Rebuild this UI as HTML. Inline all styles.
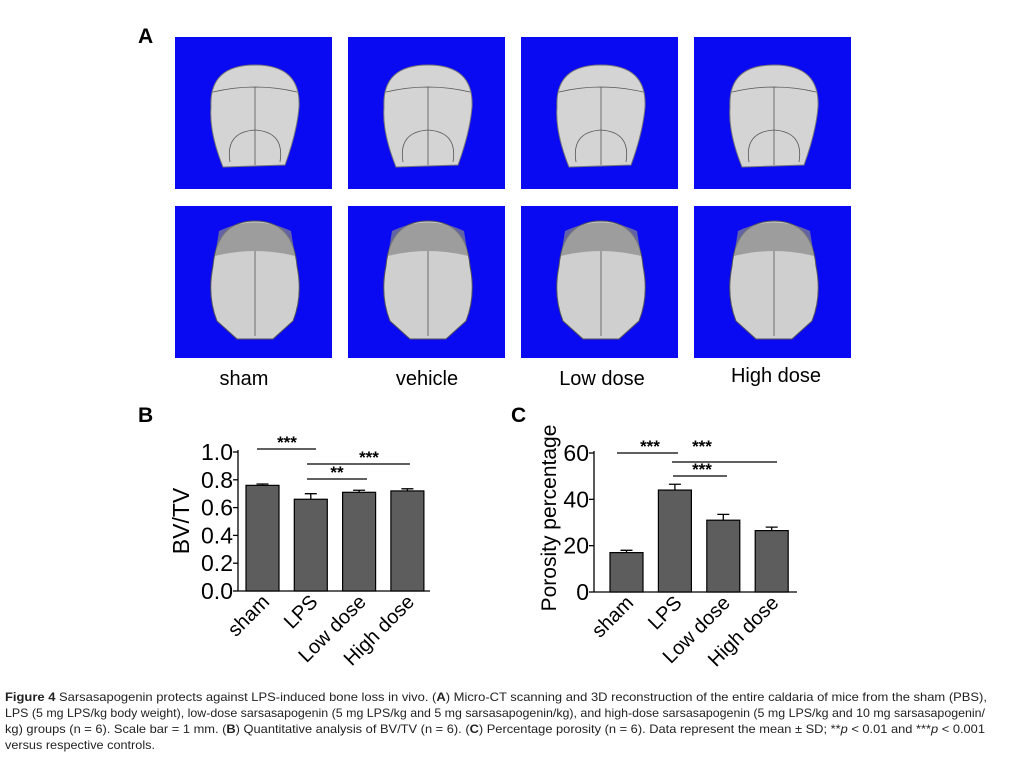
<!DOCTYPE html>
<html><head><meta charset="utf-8"><style>
body{margin:0;background:#fff;width:1010px;height:783px;overflow:hidden;font-family:"Liberation Sans",sans-serif}
svg{position:absolute;left:0;top:0}
</style></head><body>
<svg width="1010" height="783" id="fig">
<text x="138" y="43" font-size="21" font-weight="bold">A</text>
<g id="panels"></g>
<text x="244" y="385" font-size="20" text-anchor="middle">sham</text>
<text x="427" y="385" font-size="20" text-anchor="middle">vehicle</text>
<text x="602" y="385" font-size="20" text-anchor="middle">Low dose</text>
<text x="776" y="382" font-size="20" text-anchor="middle">High dose</text>
<text x="138" y="422" font-size="21" font-weight="bold">B</text>
<text x="511" y="422" font-size="21" font-weight="bold">C</text>
<g id="chartB"></g>
<g id="chartC"></g>
<g font-size="12" fill="#222">
<text x="5" y="701" textLength="982" lengthAdjust="spacingAndGlyphs"><tspan font-weight="bold">Figure 4</tspan> Sarsasapogenin protects against LPS-induced bone loss in vivo. (<tspan font-weight="bold">A</tspan>) Micro-CT scanning and 3D reconstruction of the entire caldaria of mice from the sham (PBS),</text>
<text x="5" y="717" textLength="980" lengthAdjust="spacingAndGlyphs">LPS (5 mg LPS/kg body weight), low-dose sarsasapogenin (5 mg LPS/kg and 5 mg sarsasapogenin/kg), and high-dose sarsasapogenin (5 mg LPS/kg and 10 mg sarsasapogenin/</text>
<text x="5" y="733" textLength="980" lengthAdjust="spacingAndGlyphs">kg) groups (n = 6). Scale bar = 1 mm. (<tspan font-weight="bold">B</tspan>) Quantitative analysis of BV/TV (n = 6). (<tspan font-weight="bold">C</tspan>) Percentage porosity (n = 6). Data represent the mean ± SD; **<tspan font-style="italic">p</tspan> &lt; 0.01 and ***<tspan font-style="italic">p</tspan> &lt; 0.001</text>
<text x="5" y="749" textLength="150" lengthAdjust="spacingAndGlyphs">versus respective controls.</text>
</g>
</svg>
<script>
const NS="http://www.w3.org/2000/svg";
function mk(p,t,a){const e=document.createElementNS(NS,t);for(const k in a)e.setAttribute(k,a[k]);p.appendChild(e);return e;}
const panels=document.getElementById('panels');
const px=[175,348,521,694], py=[37,206];
py.forEach((y,r)=>px.forEach((x,c)=>{
  const g=mk(panels,'g',{});
  
  
  mk(g,'rect',{x:x,y:y,width:157,height:152,fill:'#0a0af2'});
  const cx=x+80;
  if(r===0){
    mk(g,'path',{d:`M${cx-44} ${y+70} Q${cx-46} ${y+28} ${cx} ${y+28} Q${cx+46} ${y+28} ${cx+44} ${y+70} Q${cx+42} ${y+95} ${cx+30} ${y+128} L${cx-32} ${y+130} Q${cx-46} ${y+95} ${cx-44} ${y+70}Z`,fill:'#d4d4d4',stroke:'#777','stroke-width':1});
    mk(g,'path',{d:`M${cx-42} ${y+55} Q${cx} ${y+45} ${cx+42} ${y+55} M${cx} ${y+50} L${cx} ${y+128} M${cx-25} ${y+125} Q${cx-30} ${y+95} ${cx} ${y+93} Q${cx+30} ${y+95} ${cx+25} ${y+125}`,fill:'none',stroke:'#555','stroke-width':0.8});
  } else {
    mk(g,'path',{d:`M${cx-42} ${y+60} Q${cx-38} ${y+15} ${cx} ${y+15} Q${cx+38} ${y+15} ${cx+42} ${y+60} Q${cx+48} ${y+90} ${cx+38} ${y+115} L${cx+18} ${y+133} L${cx-18} ${y+133} L${cx-38} ${y+115} Q${cx-48} ${y+90} ${cx-42} ${y+60}Z`,fill:'#cfcfcf',stroke:'#555','stroke-width':1});
    mk(g,'path',{d:`M${cx-36} ${y+25} Q${cx} ${y+8} ${cx+36} ${y+25} L${cx+40} ${y+50} Q${cx} ${y+40} ${cx-40} ${y+50}Z`,fill:'#888',opacity:0.7});
    mk(g,'path',{d:`M${cx} ${y+45} L${cx} ${y+130}`,stroke:'#555','stroke-width':0.8});
  }
}));
const catsB=['sham','LPS','Low dose','High dose'];
const valsB=[0.76,0.66,0.71,0.72];
const errB=[0.01,0.04,0.015,0.015];
const ticksB=['0.0','0.2','0.4','0.6','0.8','1.0'];
const tickValsB=[0,0.2,0.4,0.6,0.8,1.0];
const catsC=['sham','LPS','Low dose','High dose'];
const valsC=[17,44,31,26.5];
const errC=[1,2.5,2.5,1.5];
const ticksC=['0','20','40','60'];
const tickValsC=[0,20,40,60];

function chart(gid,cats,vals,errs,ticks,tvals,o){
  const g=document.getElementById(gid);
  const y=v=>o.y0-(v/o.max)*(o.y0-o.yTop);
  const bx=i=>o.x0+o.off+i*o.step;
  mk(g,'line',{x1:o.x0,y1:o.yTop-2,x2:o.x0,y2:o.y0,stroke:'#000','stroke-width':1.3});
  mk(g,'line',{x1:o.x0,y1:o.y0,x2:o.xEnd,y2:o.y0,stroke:'#000','stroke-width':1.3});
  tvals.forEach((v,i)=>{
    const t=mk(g,'line',{x1:o.x0-5,y1:y(v),x2:o.x0,y2:y(v),stroke:'#000','stroke-width':1.3});
    
    
    const l=mk(g,'text',{x:o.x0-5,y:y(v)+8,'font-size':23,'text-anchor':'end'});
    l.textContent=ticks[i];
    
    
  });
  vals.forEach((v,i)=>{
    const cx=bx(i)+o.w/2, top=y(v+errs[i]);
    const e=mk(g,'path',{d:`M${cx} ${y(v)} L${cx} ${top} M${cx-6} ${top} L${cx+6} ${top}`,stroke:'#000','stroke-width':1.3,fill:'none'});
    
    
    const r=mk(g,'rect',{x:bx(i),y:y(v),width:o.w,height:o.y0-y(v),fill:'#5d5d5d',stroke:'#000','stroke-width':1.2});
    
    
    const tx=mk(g,'text',{x:cx+8,y:o.y0+12,'font-size':20,'text-anchor':'end',transform:`rotate(-45 ${cx+8} ${o.y0+12})`});
    tx.textContent=cats[i];
    
    
  });
  const yl=mk(g,'text',{x:o.lx,y:o.ly,'font-size':o.lfs,'text-anchor':'middle',transform:`rotate(-90 ${o.lx} ${o.ly})`});
  yl.textContent=o.label;
  
  
  o.sig.forEach(s=>{
    const l=mk(g,'line',{x1:s[0],y1:s[2],x2:s[1],y2:s[2],stroke:'#000','stroke-width':1.2});
    
    
    const t=mk(g,'text',{x:s[4],y:s[2]+s[5],'font-size':17,'font-weight':'bold','text-anchor':'middle'});
    t.textContent=s[3];
    
    
  });
}
chart('chartB',catsB,valsB,errB,ticksB,tickValsB,{x0:238,y0:591,yTop:452,max:1.0,xEnd:430,off:8,step:48.3,w:33,lx:189,ly:521,lfs:23,label:'BV/TV',
  sig:[[257,316,449,'***',287,-1],[307,410,464,'***',369,-1],[307,367,479,'**',337,-1]]});
chart('chartC',catsC,valsC,errC,ticksC,tickValsC,{x0:594,y0:592,yTop:453,max:60,xEnd:797,off:16,step:48.4,w:33,lx:556,ly:518,lfs:21,label:'Porosity percentage',
  sig:[[617,678,453,'***',650,-1],[672,777,462,'***',702,-10],[673,727,476,'***',702,-1]]});
</script>
</body></html>
